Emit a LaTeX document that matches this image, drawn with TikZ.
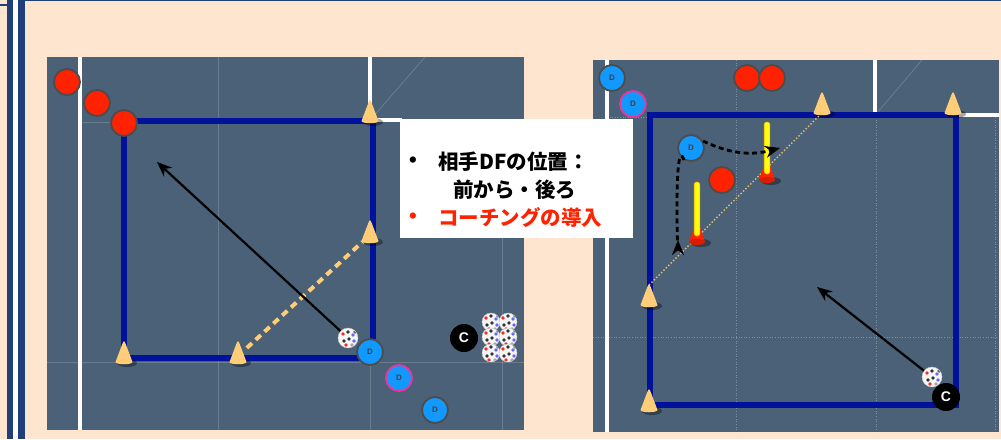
\documentclass[tikz,border=0pt]{standalone}
\usepackage{fontspec}
\setsansfont{Liberation Sans}
\newfontfamily\jpfont{Noto Sans CJK JP}
\usepackage{tikz}
\usetikzlibrary{positioning,arrows.meta}

\definecolor{paper}{HTML}{FEE5CF}
\definecolor{pitch}{HTML}{4A6177}
\definecolor{rim}{HTML}{1F3F7A}
\definecolor{zoneblue}{HTML}{001299}
\definecolor{oppred}{HTML}{FF2200}
\definecolor{defblue}{HTML}{1199FF}
\definecolor{keypink}{HTML}{EE3399}
\definecolor{conetan}{HTML}{FFCC77}
\definecolor{poleyellow}{HTML}{FFFF11}

\tikzset{
  opp/.style={circle,fill=oppred,draw=black!70,line width=1.8pt,minimum size=26pt,inner sep=0pt},
  def/.style={circle,fill=defblue,draw=black!70,line width=1.8pt,minimum size=26pt,inner sep=0pt,
    text=black!75,font=\sffamily\bfseries\fontsize{8}{8}\selectfont},
  keydef/.style={def,draw=keypink},
  coach/.style={circle,fill=black,minimum size=28pt,inner sep=0pt,text=white,
    font=\sffamily\bfseries\fontsize{14}{14}\selectfont},
  ball/.style={circle,minimum size=20pt,inner sep=0pt,fill=gray!8,draw=gray!45,line width=0.4pt,
    path picture={
      \foreach \dx/\dy/\c in {-5/-4/red!85,0/-6/black!80,5/-3/blue!60,6/3/blue!60,1/1/black!80,
                              -4/3/black!80,-2/7/red!85,4/7/gray!70,7/-6/black!60}
        \fill[\c] ([shift={(\dx,\dy)}]path picture bounding box.center) circle (1.9);
    }},
  gridline/.style={white,opacity=0.18,line width=0.8pt},
  gridfine/.style={white,opacity=0.3,line width=0.6pt,dotted},
  fieldline/.style={white,line width=3.5pt},
  zone/.style={draw=zoneblue,line width=5.5pt},
  pass/.style={black,line width=2.2pt,-{Stealth[length=15pt,width=12pt]}},
  run/.style={black,line width=2.8pt,dash pattern=on 5pt off 3.5pt,-{Stealth[length=15pt,width=12pt]}},
  coneline/.style={conetan,line width=4pt,dash pattern=on 7pt off 5pt},
  conedots/.style={conetan!80!gray,line width=1.4pt,dotted},
  memo/.style={font=\jpfont\bfseries\fontsize{20.5}{20.5}\selectfont,anchor=west,inner sep=0pt},
  dot/.style={font=\fontsize{28}{28}\selectfont,inner sep=0pt},
  pics/cone/.style={code={
    \fill[black,opacity=0.35] (3,1) ellipse (10 and 4);
    \fill[conetan] (-8.5,0) .. controls (-8,3) and (8,3) .. (8.5,0) -- (1.3,-19)
      .. controls (0.6,-21.5) and (-0.6,-21.5) .. (-1.3,-19) -- cycle;
    \coordinate (-base) at (0,0);
    \coordinate (-mid) at (0,-6);
    \coordinate (-tip) at (0,-20);
  }},
  pics/pole/.style={code={
    \fill[black,opacity=0.35] (4,1) ellipse (10 and 4);
    \fill[oppred] (-8,0) -- (-2.5,-16) -- (2.5,-16) -- (8,0) -- cycle;
    \fill[oppred!85!black] (0,0) ellipse (8 and 3);
    \fill[poleyellow,draw=orange!60!yellow,line width=0.6pt,rounded corners=2.5pt] (-2.8,-6) rectangle (2.8,-#1);
  }},
}

\begin{document}
\begin{tikzpicture}[x=1pt,y=-1pt]
\useasboundingbox (0,0) rectangle (1001,439);
\fill[paper] (0,0) rectangle (1001,439);
\fill[rim] (7,0) rectangle (13,439);
\fill[white!90!paper] (13,0) rectangle (18,439);
\fill[rim] (18,0) rectangle (25,439);
\fill[rim] (25,0) rectangle (1001,1.3);
\fill[rim] (0,4) rectangle (7,6);

% left pitch
\fill[pitch] (47,57) rectangle (524,430);
\draw[gridline] (218,57) -- (218,430);
\draw[gridline] (83,122) -- (124,122);
\draw[gridline] (47,362) -- (524,362);
\draw[gridline] (370,358) -- (370,430);
\draw[gridline] (502,238) -- (502,430);
\draw[gridline] (372,118) -- (425,57);
\draw[fieldline] (80,57) -- (80,430);
\draw[fieldline] (370,57) -- (370,120) -- (402,120);
\draw[zone] (124,121) rectangle (373,358);

\pic (lcA) at (370,121) {cone};
\pic (lcB) at (370,241) {cone};
\pic (lcC) at (238,362) {cone};
\pic (lcD) at (124,362) {cone};
\draw[coneline,shorten <=12pt,shorten >=10pt] (lcC-mid) -- (lcB-mid);

\node[opp] (lo1) at (67,82) {};
\node[opp] (lo2) at (97,103) {};
\node[opp] (lo3) at (124,123) {};
\node[ball] (lb) at (348,338) {};
\node[def] (ld1) at (370,352) {D};
\node[keydef] (ld2) at (399,378) {D};
\node[def] (ld3) at (435,410) {D};
\node[coach] (lc) at (464,338) {C};
\foreach \i/\x/\y in {1/491/322,2/508/322,3/491/337,4/508/337,5/491/353,6/508/353}
  \node[ball,minimum size=18pt] (ls\i) at (\x,\y) {};
\coordinate (lt) at (157,162);
\draw[pass] (lb) -- (lt);

% right pitch
\fill[pitch] (593,60) rectangle (999,432);
\draw[gridfine] (736,60) -- (736,432);
\draw[gridfine] (876,117) -- (876,432);
\draw[gridfine] (995,117) -- (995,432);
\draw[gridfine] (607,117) -- (650,117);
\draw[gridfine] (593,337) -- (999,337);
\draw[gridline] (877,113) -- (922,60);
\draw[fieldline] (607,60) -- (607,432);
\draw[fieldline] (875,60) -- (875,115) -- (999,115);
\draw[zone] (650,115) rectangle (956,405);

\pic (rcA) at (822,113) {cone};
\pic (rcB) at (953,113) {cone};
\pic (rcC) at (649,305) {cone};
\pic (rcD) at (649,410) {cone};
\draw[conedots] (rcC-tip) -- (rcA-base);

\pic (rpA) at (767,180) {pole=58};
\pic (rpB) at (697,242) {pole=60};

\node[opp] (ro1) at (747,78) {};
\node[opp] (ro2) at (772,78) {};
\node[opp] (ro3) at (722,180) {};
\node[def] (rd1) at (612,78) {D};
\node[keydef] (rd2) at (633,104) {D};
\node[def] (rd3) at (691,148) {D};
\coordinate (runR) at (780,148);
\coordinate (runD) at (678,240);
\draw[run] (rd3.30) to[out=-25,in=-165] (runR);
\draw[run] (rd3.240) to[out=110,in=-90] (runD);

\node[ball] (rb) at (932,377) {};
\node[coach] (rc) at (946,397) {C};
\coordinate (rt) at (817,287);
\draw[pass] (rb) -- (rt);

% notes
\fill[white] (400,119) rectangle (633,238);
\node[dot] (m1) at (413,162) {\textbullet};
\node[memo] (t1) at (438,162) {相手DFの位置：};
\node[memo] (t2) at (453,190) {前から・後ろ};
\node[dot,text=oppred] (m2) at (413,218) {\textbullet};
\node[memo,text=oppred] (t3) at (438,218) {コーチングの導入};
\end{tikzpicture}
\end{document}
